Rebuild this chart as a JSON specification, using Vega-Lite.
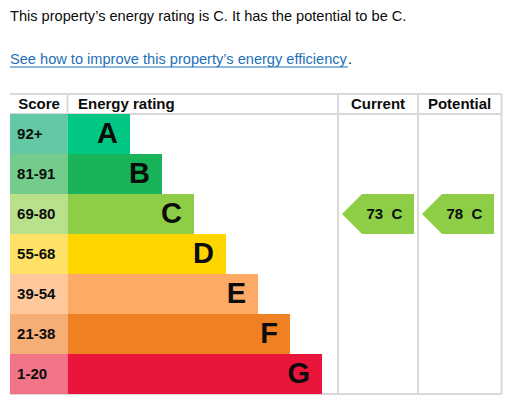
{
  "$schema": "https://vega.github.io/schema/vega-lite/v6.json",
  "description": "Energy performance certificate rating chart: current and potential rating C.",
  "width": 512,
  "height": 411,
  "autosize": {"type": "fit", "contains": "padding"},
  "padding": 0,
  "background": "white",
  "data": {"values": [{}]},
  "datasets": {
    "ratings": [
      {"band": "A", "score": "92+", "rank": 0, "mid": 0.5, "next": 1, "len": 2},
      {"band": "B", "score": "81-91", "rank": 1, "mid": 1.5, "next": 2, "len": 3},
      {"band": "C", "score": "69-80", "rank": 2, "mid": 2.5, "next": 3, "len": 4},
      {"band": "D", "score": "55-68", "rank": 3, "mid": 3.5, "next": 4, "len": 5},
      {"band": "E", "score": "39-54", "rank": 4, "mid": 4.5, "next": 5, "len": 6},
      {"band": "F", "score": "21-38", "rank": 5, "mid": 5.5, "next": 6, "len": 7},
      {"band": "G", "score": "1-20", "rank": 6, "mid": 6.5, "next": 7, "len": 8}
    ],
    "assessment": [
      {"kind": "Current", "score": 73, "band": "C", "label": "73\u00a0\u00a0C"},
      {"kind": "Potential", "score": 78, "band": "C", "label": "78\u00a0\u00a0C"}
    ]
  },
  "layer": [
    {
      "mark": {"type": "rule", "stroke": "#d9d9d9", "strokeWidth": 2},
      "encoding": {
        "x": {"datum": -1.75, "type": "quantitative", "scale": {"domain": [-2.0625, 13.9375], "nice": false, "zero": false}, "axis": null},
        "x2": {"datum": 13.61},
        "y": {"datum": -0.5, "type": "quantitative", "scale": {"domain": [-2.85, 7.425], "reverse": true, "nice": false, "zero": false}, "axis": null}
      }
    },
    {
      "mark": {"type": "rule", "stroke": "#d9d9d9", "strokeWidth": 2},
      "encoding": {"x": {"datum": -1.75, "type": "quantitative"}, "x2": {"datum": 13.61}, "y": {"datum": 0, "type": "quantitative"}}
    },
    {
      "mark": {"type": "rule", "stroke": "#d9d9d9", "strokeWidth": 2},
      "encoding": {"x": {"datum": -1.75, "type": "quantitative"}, "x2": {"datum": 13.61}, "y": {"datum": 7, "type": "quantitative"}}
    },
    {
      "mark": {"type": "rule", "stroke": "#d9d9d9", "strokeWidth": 2},
      "encoding": {"y": {"datum": -0.5, "type": "quantitative"}, "y2": {"datum": 0}, "x": {"datum": 0.047, "type": "quantitative"}}
    },
    {
      "mark": {"type": "rule", "stroke": "#d9d9d9", "strokeWidth": 2},
      "encoding": {"y": {"datum": -0.5, "type": "quantitative"}, "y2": {"datum": 7}, "x": {"datum": 8.5, "type": "quantitative"}}
    },
    {
      "mark": {"type": "rule", "stroke": "#d9d9d9", "strokeWidth": 2},
      "encoding": {"y": {"datum": -0.5, "type": "quantitative"}, "y2": {"datum": 7}, "x": {"datum": 11, "type": "quantitative"}}
    },
    {
      "mark": {"type": "rule", "stroke": "#d9d9d9", "strokeWidth": 2},
      "encoding": {"y": {"datum": -0.5, "type": "quantitative"}, "y2": {"datum": 7}, "x": {"datum": 13.61, "type": "quantitative"}}
    },
    {
      "data": {"name": "ratings"},
      "mark": {"type": "rect"},
      "encoding": {
        "y": {"field": "rank", "type": "quantitative"},
        "y2": {"field": "next"},
        "x": {"datum": -1.75, "type": "quantitative"},
        "x2": {"datum": 0.047},
        "fill": {
          "field": "band", "type": "nominal", "legend": null,
          "scale": {"domain": ["A", "B", "C", "D", "E", "F", "G"], "range": ["#64c8a4", "#74cc8c", "#b9e08a", "#ffe168", "#fec89c", "#f5ae76", "#f27489"]}
        }
      }
    },
    {
      "data": {"name": "ratings"},
      "mark": {"type": "rect"},
      "encoding": {
        "y": {"field": "rank", "type": "quantitative"},
        "y2": {"field": "next"},
        "x": {"field": "len", "type": "quantitative"},
        "x2": {"datum": 0.047},
        "color": {
          "field": "band", "type": "nominal", "legend": null,
          "scale": {"domain": ["A", "B", "C", "D", "E", "F", "G"], "range": ["#00c781", "#19b459", "#8dce46", "#ffd500", "#fcaa65", "#ef8023", "#e9153b"]}
        }
      }
    },
    {
      "data": {"name": "ratings"},
      "mark": {"type": "text", "align": "left", "baseline": "middle", "fontSize": 15, "fontWeight": "bold", "font": "Liberation Sans", "fill": "#0b0c0c"},
      "encoding": {
        "x": {"datum": -1.53, "type": "quantitative"},
        "y": {"field": "mid", "type": "quantitative"},
        "text": {"field": "score", "type": "nominal"}
      }
    },
    {
      "data": {"name": "ratings"},
      "mark": {"type": "text", "align": "right", "baseline": "middle", "dx": -12, "fontSize": 29, "fontWeight": "bold", "font": "Liberation Sans", "fill": "#0b0c0c"},
      "encoding": {
        "x": {"field": "len", "type": "quantitative"},
        "y": {"field": "mid", "type": "quantitative"},
        "text": {"field": "band", "type": "nominal"}
      }
    },
    {
      "data": {"name": "assessment"},
      "transform": [
        {"lookup": "band", "from": {"data": {"name": "ratings"}, "key": "band", "fields": ["mid"]}},
        {"filter": "datum.kind === 'Current'"}
      ],
      "mark": {"type": "point", "filled": true, "opacity": 1, "strokeWidth": 0, "size": 5184, "shape": "M -1 0 L -0.4444 -0.5556 L 1 -0.5556 L 1 0.5556 L -0.4444 0.5556 Z"},
      "encoding": {
        "x": {"datum": 9.75, "type": "quantitative"},
        "y": {"field": "mid", "type": "quantitative"},
        "color": {"field": "band", "type": "nominal", "legend": null}
      }
    },
    {
      "data": {"name": "assessment"},
      "transform": [
        {"lookup": "band", "from": {"data": {"name": "ratings"}, "key": "band", "fields": ["mid"]}},
        {"filter": "datum.kind === 'Potential'"}
      ],
      "mark": {"type": "point", "filled": true, "opacity": 1, "strokeWidth": 0, "size": 5184, "shape": "M -1 0 L -0.4444 -0.5556 L 1 -0.5556 L 1 0.5556 L -0.4444 0.5556 Z"},
      "encoding": {
        "x": {"datum": 12.25, "type": "quantitative"},
        "y": {"field": "mid", "type": "quantitative"},
        "color": {"field": "band", "type": "nominal", "legend": null}
      }
    },
    {
      "data": {"name": "assessment"},
      "transform": [
        {"lookup": "band", "from": {"data": {"name": "ratings"}, "key": "band", "fields": ["mid"]}},
        {"filter": "datum.kind === 'Current'"}
      ],
      "mark": {"type": "text", "align": "center", "baseline": "middle", "fontSize": 15, "fontWeight": "bold", "font": "Liberation Sans", "fill": "#0b0c0c"},
      "encoding": {
        "x": {"datum": 9.95, "type": "quantitative"},
        "y": {"field": "mid", "type": "quantitative"},
        "text": {"field": "label", "type": "nominal"}
      }
    },
    {
      "data": {"name": "assessment"},
      "transform": [
        {"lookup": "band", "from": {"data": {"name": "ratings"}, "key": "band", "fields": ["mid"]}},
        {"filter": "datum.kind === 'Potential'"}
      ],
      "mark": {"type": "text", "align": "center", "baseline": "middle", "fontSize": 15, "fontWeight": "bold", "font": "Liberation Sans", "fill": "#0b0c0c"},
      "encoding": {
        "x": {"datum": 12.45, "type": "quantitative"},
        "y": {"field": "mid", "type": "quantitative"},
        "text": {"field": "label", "type": "nominal"}
      }
    },
    {
      "mark": {"type": "text", "align": "center", "baseline": "alphabetic", "fontSize": 15, "fontWeight": "bold", "font": "Liberation Sans", "fill": "#0b0c0c", "text": "Score"},
      "encoding": {"x": {"datum": -0.84, "type": "quantitative"}, "y": {"datum": -0.125, "type": "quantitative"}}
    },
    {
      "mark": {"type": "text", "align": "left", "baseline": "alphabetic", "fontSize": 15, "fontWeight": "bold", "font": "Liberation Sans", "fill": "#0b0c0c", "text": "Energy rating"},
      "encoding": {"x": {"datum": 0.375, "type": "quantitative"}, "y": {"datum": -0.125, "type": "quantitative"}}
    },
    {
      "mark": {"type": "text", "align": "center", "baseline": "alphabetic", "fontSize": 15, "fontWeight": "bold", "font": "Liberation Sans", "fill": "#0b0c0c", "text": "Current"},
      "encoding": {"x": {"datum": 9.75, "type": "quantitative"}, "y": {"datum": -0.125, "type": "quantitative"}}
    },
    {
      "mark": {"type": "text", "align": "center", "baseline": "alphabetic", "fontSize": 15, "fontWeight": "bold", "font": "Liberation Sans", "fill": "#0b0c0c", "text": "Potential"},
      "encoding": {"x": {"datum": 12.3, "type": "quantitative"}, "y": {"datum": -0.125, "type": "quantitative"}}
    },
    {
      "mark": {"type": "text", "align": "left", "baseline": "alphabetic", "fontSize": 14.6, "font": "Liberation Sans", "fill": "#0b0c0c", "text": "This property’s energy rating is C. It has the potential to be C."},
      "encoding": {"x": {"datum": -1.75, "type": "quantitative"}, "y": {"datum": -2.325, "type": "quantitative"}}
    },
    {
      "mark": {"type": "text", "align": "left", "baseline": "alphabetic", "fontSize": 14.6, "font": "Liberation Sans", "fill": "#1d70b8", "text": "See how to improve this property’s energy efficiency"},
      "encoding": {"x": {"datum": -1.75, "type": "quantitative"}, "y": {"datum": -1.25, "type": "quantitative"}}
    },
    {
      "mark": {"type": "text", "align": "left", "baseline": "alphabetic", "fontSize": 14.6, "font": "Liberation Sans", "fill": "#0b0c0c", "text": "."},
      "encoding": {"x": {"datum": 8.8125, "type": "quantitative"}, "y": {"datum": -1.25, "type": "quantitative"}}
    },
    {
      "mark": {"type": "rule", "stroke": "#1d70b8", "strokeWidth": 1},
      "encoding": {"x": {"datum": -1.75, "type": "quantitative"}, "x2": {"datum": 8.8125}, "y": {"datum": -1.175, "type": "quantitative"}}
    }
  ],
  "config": {
    "view": {"stroke": null}
  }
}
